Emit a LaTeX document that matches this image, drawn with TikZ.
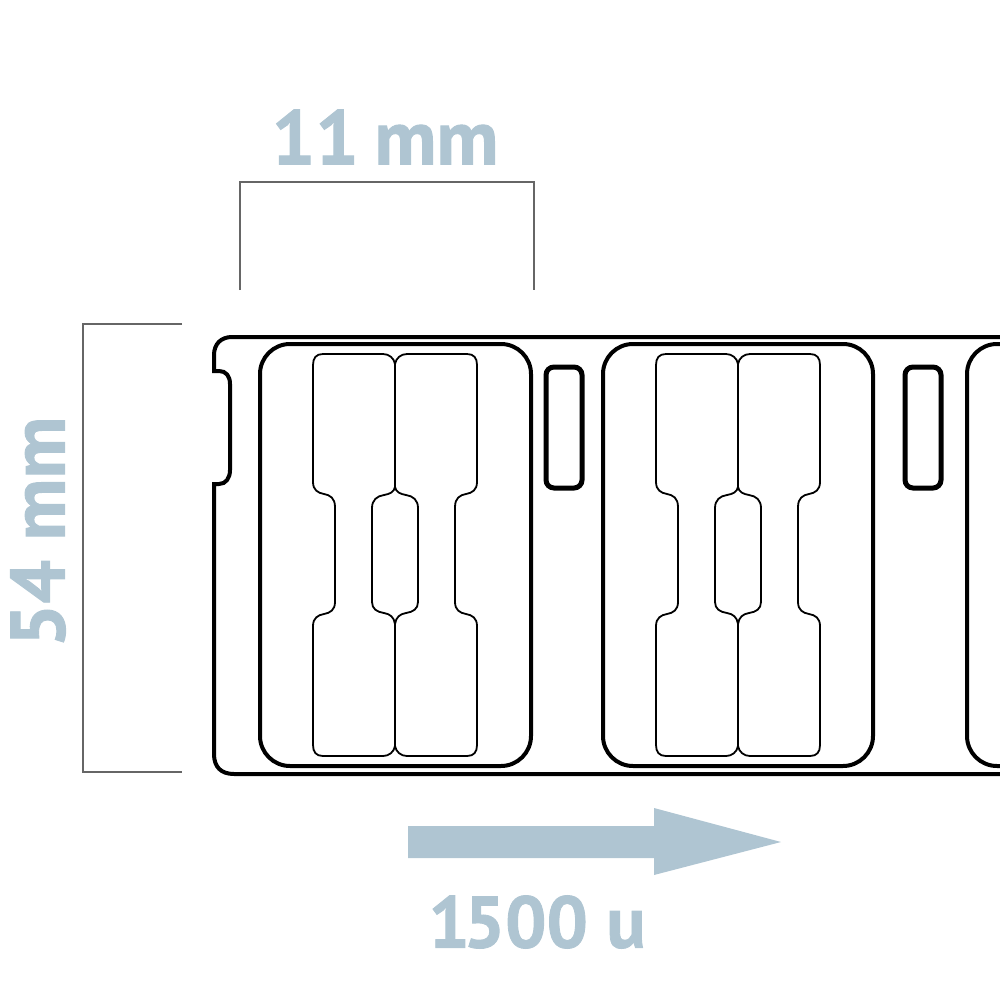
\documentclass[tikz,border=0pt]{standalone}
\usepackage{fontspec}
\setmainfont{PT Sans}[BoldFeatures={FakeBold=1.2}]
\definecolor{sizeblue}{HTML}{AFC5D2}
\definecolor{bracketgrey}{HTML}{666666}
\tikzset{
  sizelabel/.style={text=sizeblue,font=\bfseries\fontsize{77}{77}\selectfont,inner sep=0pt},
  bracket/.style={draw=bracketgrey,line width=2.6pt},
  strip/.style={draw=black,line width=4pt},
  blister/.style={draw=black,line width=4pt,rounded corners=30pt},
  slot/.style={draw=black,line width=5pt,rounded corners=8pt},
  blank/.style={draw=black,line width=1.8pt},
  pics/labelpair/.style={code={
    \foreach \s in {-1,1} {
      \draw[blank,xscale=\s] (0,364) .. controls (-1,358) and (-6,354) .. (-12,354) -- (-72,354)
        .. controls (-79,354) and (-82,358) .. (-82,365) -- (-82,482)
        .. controls (-82,490) and (-77,493) .. (-71,494)
        .. controls (-65,495) and (-60,498) .. (-60,507) -- (-60,602)
        .. controls (-60,610) and (-65,613) .. (-71,614)
        .. controls (-77,615) and (-82,618) .. (-82,626) -- (-82,745)
        .. controls (-82,752) and (-79,756) .. (-72,756) -- (-12,756)
        .. controls (-6,756) and (-1,752) .. (0,746);
      \draw[blank,xscale=\s] (0,487) .. controls (-1,492) and (-5,494) .. (-11,495)
        .. controls (-18,496) and (-23,500) .. (-23,508) -- (-23,602)
        .. controls (-23,609) and (-18,612) .. (-11,613)
        .. controls (-5,614) and (-1,617) .. (0,624);
    }
    \draw[blank] (0,364) -- (0,487);
    \draw[blank] (0,624) -- (0,746);
  }}
}

\begin{document}
\begin{tikzpicture}[x=1pt,y=-1pt]
\useasboundingbox (0,0) rectangle (1000,1000);
\clip (0,0) rectangle (1000,1000);

% strip outline with the notch
\draw[strip] (1003,337) -- (232,337) .. controls (221,337) and (214,344) .. (214,355) -- (214,371)
  -- (219,371) .. controls (226,371) and (230,376) .. (230,384) -- (230,470)
  .. controls (230,478) and (226,484) .. (219,484) -- (214,484) -- (214,754)
  .. controls (214,767) and (221,774) .. (234,774) -- (1003,774);

% blisters
\draw[blister] (260,344) rectangle (531,766);
\draw[blister] (603,344) rectangle (873,766);
\draw[blister] (1040,344) -- (967,344) -- (967,766) -- (1040,766);
\draw[slot] (546,367) rectangle (582,488);
\draw[slot] (905,367) rectangle (941,488);

% labels
\pic at (395,0) {labelpair};
\pic at (738,0) {labelpair};

% dimensions
\draw[bracket] (240,290) -- (240,182) -- (534,182) -- (534,290);
\draw[bracket] (182,324) -- (83,324) -- (83,772) -- (182,772);
\node[sizelabel] (widthlabel) at (385,137) {11\kern-4pt\ mm};
\node[sizelabel,rotate=90] (heightlabel) at (38,532) {54 mm};

% feed direction
\fill[sizeblue] (408,826) -- (654,826) -- (654,808) -- (781,842) -- (654,875) -- (654,858) -- (408,858) -- cycle;
\node[sizelabel,font=\bfseries\fontsize{73}{73}\selectfont] (countlabel) at (537,922) {1\kern-6pt 500 u};
\end{tikzpicture}
\end{document}
